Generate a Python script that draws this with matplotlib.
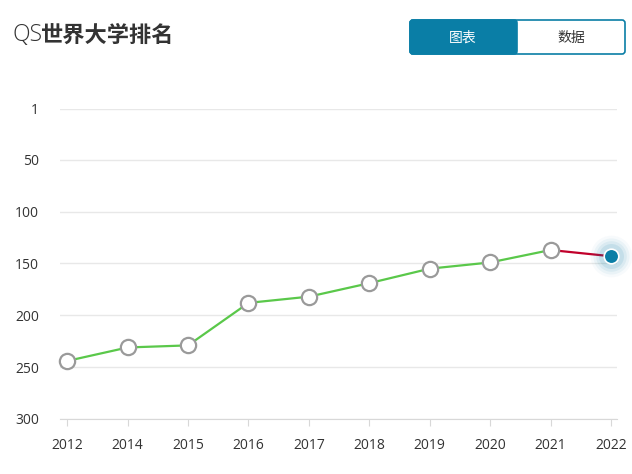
import matplotlib.pyplot as plt
from matplotlib.patches import FancyBboxPatch, Rectangle

plt.rcParams['font.family'] = ['Open Sans', 'Noto Sans CJK SC', 'DejaVu Sans']

years = ['2012', '2014', '2015', '2016', '2017', '2018', '2019', '2020', '2021', '2022']
ranks = [244, 231, 229, 188, 182, 169, 155, 149, 137, 143]
ytick_vals = [1, 50, 100, 150, 200, 250, 300]
ytick_labels = ['1', '50', '100', '150', '200', '250', '300']

W, H = 632, 474
fig = plt.figure(figsize=(W / 100, H / 100), dpi=100)
ax = fig.add_axes([60 / W, 1 - 419 / H, (617 - 60) / W, (419 - 109) / H])

x = list(range(len(years)))
green = '#5ac84a'
red = '#c1002b'
blue = '#0a7ea6'

# history line (green) up to 2021, latest segment in red
ax.plot(x[:-1], ranks[:-1], color=green, lw=1.6, zorder=3, clip_on=False)
ax.plot(x[-2:], ranks[-2:], color=red, lw=1.6, zorder=3, clip_on=False)
ax.plot(x[:-1], ranks[:-1], 'o', ms=11, mfc='white', mec='#9a9a9a', mew=1.6,
        zorder=4, clip_on=False)
# soft glow around last point
for s, a in [(30, 0.03), (26, 0.05), (22, 0.07), (18, 0.1)]:
    ax.plot(x[-1], ranks[-1], 'o', ms=s, mfc=blue, mec='none', alpha=a,
            zorder=4, clip_on=False)
ax.plot(x[-1], ranks[-1], 'o', ms=10.5, mfc=blue, mec='white', mew=1.2,
        zorder=5, clip_on=False)

ax.set_ylim(300, 1)
ax.set_xlim(-0.12, 9.1)
ax.set_yticks(ytick_vals)
ax.set_yticklabels(ytick_labels)
ax.set_xticks(x)
ax.set_xticklabels(years)

ax.grid(axis='y', color='#e8e8e8', lw=1)
ax.set_axisbelow(True)
for s in ['top', 'right', 'left']:
    ax.spines[s].set_visible(False)
ax.spines['bottom'].set_color('#d8d8d8')
ax.tick_params(axis='y', length=0, pad=15, labelsize=10, labelcolor='#333333')
ax.tick_params(axis='x', length=5, color='#d8d8d8', pad=9, labelsize=10,
               labelcolor='#333333')

# title
fig.text(12 / W, 1 - 35 / H, 'QS', fontsize=16.5, color='#333333', va='center',
         family=['Open Sans'], fontweight='light')
fig.text(40 / W, 1 - 35 / H, '世界大学排名', fontsize=16, color='#333333',
         va='center', family=['Noto Sans CJK SC'], fontweight='bold')

# toggle buttons
bx = fig.add_axes([0, 0, 1, 1], zorder=-1)
bx.set_xlim(0, W)
bx.set_ylim(H, 0)
bx.axis('off')
bx.add_patch(FancyBboxPatch((410, 20), 215, 34, boxstyle='round,pad=0,rounding_size=3',
                            fc='white', ec=blue, lw=1.2))
bx.add_patch(FancyBboxPatch((410, 20), 107, 34, boxstyle='round,pad=0,rounding_size=3',
                            fc=blue, ec=blue, lw=1.2))
bx.add_patch(Rectangle((505, 20), 12, 34, fc=blue, ec='none'))
bx.text(463, 37.5, '图表', color='white', fontsize=10, ha='center', va='center',
        family=['Noto Sans CJK SC'])
bx.text(571, 37.5, '数据', color='#333333', fontsize=10, ha='center', va='center',
        family=['Noto Sans CJK SC'])

fig.savefig('out.png', dpi=100)
